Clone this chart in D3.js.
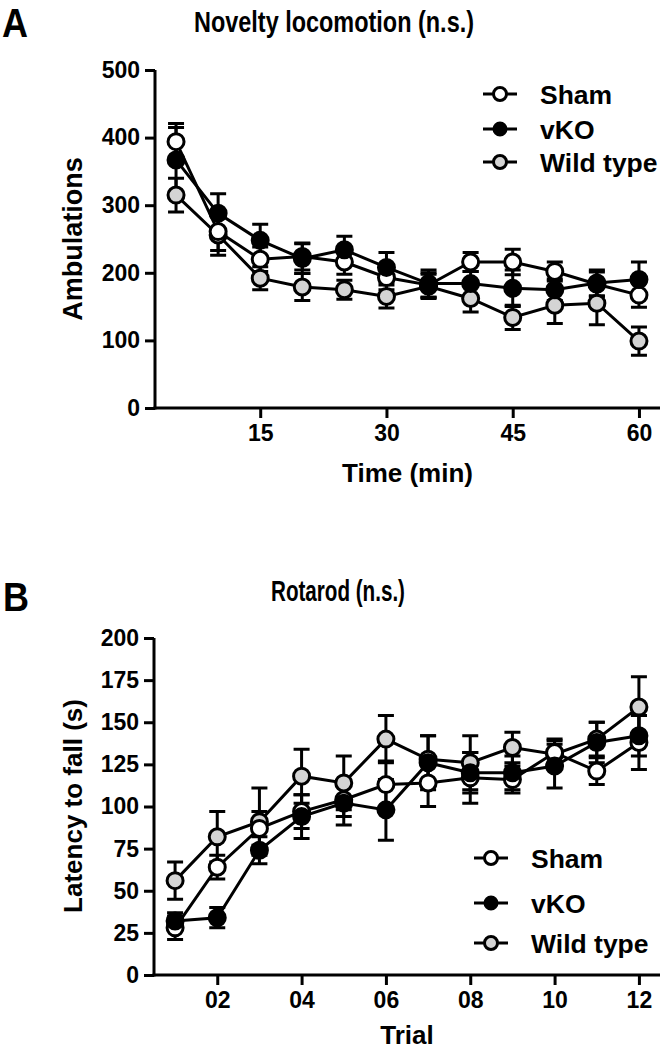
<!DOCTYPE html>
<html><head><meta charset="utf-8">
<script src="https://cdn.jsdelivr.net/npm/d3@7"></script>
<style>
html,body{margin:0;padding:0;background:#fff;}
text{font-family:"Liberation Sans",Arial,sans-serif;font-weight:bold;fill:#000;}
</style></head>
<body>
<svg id="chart" width="664" height="1050"></svg>
<script>
// ---------- Data ----------
const seriesNames = ["Sham", "vKO", "Wild type"];
// Panel A: Novelty locomotion
const timesA = [5, 10, 15, 20, 25, 30, 35, 40, 45, 50, 55, 60];
const shamA = [394, 261, 220, 224, 216, 193, 182, 216, 216, 202, 183, 167];
const shamA_sem = [27, 28, 18, 20, 18, 18, 18, 14, 19, 14, 18, 18];
const vkoA = [367, 288, 248, 221, 234, 208, 184, 184, 177, 175, 185, 190];
const vkoA_sem = [48, 29, 24, 22, 20, 22, 20, 18, 27, 16, 19, 26];
const wtA = [315, 256, 192, 179, 175, 165, 180, 162, 134, 152, 155, 99];
const wtA_sem = [25, 30, 17, 20, 14, 17, 18, 20, 18, 27, 32, 21];
const xTicksA = [15, 30, 45, 60];
const yTicksA = [0, 100, 200, 300, 400, 500];

// Panel B: Rotarod
const trialsB = [1, 2, 3, 4, 5, 6, 7, 8, 9, 10, 11, 12];
const shamB = [28, 64, 87, 97, 104, 113, 114, 117, 116, 132, 121, 138];
const shamB_sem = [7, 7, 10, 10, 10, 14, 14, 15, 8, 8, 8, 16];
const vkoB = [32, 34, 74, 94, 102, 98, 126, 120, 120, 124, 138, 142];
const vkoB_sem = [5, 6, 8, 13, 13, 18, 16, 12, 10, 13, 12, 12];
const wtB = [56, 82, 91, 118, 114, 140, 128, 126, 135, 131, 140, 159];
const wtB_sem = [11, 15, 20, 16, 16, 14, 14, 16, 9, 8, 10, 18];
const xTicksB = [2, 4, 6, 8, 10, 12];
const xTickLabelsB = ["02", "04", "06", "08", "10", "12"];
const yTicksB = [0, 25, 50, 75, 100, 125, 150, 175, 200];

// ---------- Styles ----------
const fills = {"Sham": "#ffffff", "vKO": "#000000", "Wild type": "#d4d4d4"};
const drawOrder = ["Wild type", "Sham", "vKO"];

const svg = d3.select("#chart");

function panel(cfg) {
  const g = svg.append("g");
  const x = d3.scaleLinear().domain(cfg.xDomain).range([cfg.left, cfg.right]);
  const y = d3.scaleLinear().domain(cfg.yDomain).range([cfg.bottom, cfg.top]);

  // Axes
  const yAxis = d3.axisLeft(y).tickValues(cfg.yTicks).tickSize(10).tickPadding(5).tickSizeOuter(0);
  const gy = g.append("g").attr("transform", `translate(${cfg.left},0)`).call(yAxis);
  const xAxis = d3.axisBottom(x).tickValues(cfg.xTicks).tickSize(10).tickPadding(7).tickSizeOuter(0)
    .tickFormat((d, i) => cfg.xTickLabels ? cfg.xTickLabels[i] : d);
  const gx = g.append("g").attr("transform", `translate(0,${cfg.bottom})`).call(xAxis);
  [gx, gy].forEach(a => {
    a.select(".domain").attr("stroke", "#000").attr("stroke-width", 3);
    a.selectAll(".tick line").attr("stroke", "#000").attr("stroke-width", 3);
    a.selectAll(".tick text").style("font-size", "23px").style("font-family", "'Liberation Sans',Arial,sans-serif")
      .style("font-weight", "bold").attr("fill", "#000");
  });
  gx.select(".domain").attr("d", `M${cfg.left - 1.5},0H${cfg.right}`);
  gy.select(".domain").attr("d", `M0,${cfg.top}V${cfg.bottom + 1.5}`);

  // Axis titles
  g.append("text").attr("x", (cfg.left + cfg.right) / 2).attr("y", cfg.xTitleY)
    .attr("text-anchor", "middle").style("font-size", "26px").text(cfg.xTitle);
  g.append("text").attr("transform", `translate(${cfg.yTitleX},${cfg.yTitleCY}) rotate(-90)`)
    .attr("text-anchor", "middle").style("font-size", cfg.yTitleSize + "px").text(cfg.yTitle);

  // Title and panel letter
  g.append("text").attr("x", cfg.titleX).attr("y", cfg.titleY).attr("text-anchor", "middle")
    .attr("textLength", cfg.titleLen).attr("lengthAdjust", "spacingAndGlyphs")
    .style("font-size", "30px").text(cfg.title);
  g.append("text").attr("x", cfg.letterX).attr("y", cfg.letterY)
    .attr("textLength", 26).attr("lengthAdjust", "spacingAndGlyphs")
    .style("font-size", "40px").text(cfg.letter);

  const line = d3.line().x(d => x(d.x)).y(d => y(d.y));
  drawOrder.forEach(name => {
    const s = cfg.series[name];
    const pts = cfg.xs.map((xv, i) => ({x: xv, y: s.v[i], e: s.e[i]}));
    g.append("path").datum(pts).attr("d", line).attr("fill", "none")
      .attr("stroke", "#000").attr("stroke-width", 3);
  });
  drawOrder.forEach(name => {
    const s = cfg.series[name];
    const pts = cfg.xs.map((xv, i) => ({x: xv, y: s.v[i], e: s.e[i]}));
    const eg = g.append("g");
    eg.selectAll("path").data(pts).join("path")
      .attr("d", d => {
        const cx = x(d.x), t = y(d.y + d.e), b = y(d.y - d.e);
        return `M${cx},${t}V${b}M${cx - 8},${t}H${cx + 8}M${cx - 8},${b}H${cx + 8}`;
      })
      .attr("fill", "none").attr("stroke", "#000").attr("stroke-width", 3);
  });
  drawOrder.forEach(name => {
    const s = cfg.series[name];
    const pts = cfg.xs.map((xv, i) => ({x: xv, y: s.v[i]}));
    g.append("g").selectAll("circle").data(pts).join("circle")
      .attr("cx", d => x(d.x)).attr("cy", d => y(d.y)).attr("r", 8)
      .attr("fill", fills[name]).attr("stroke", "#000").attr("stroke-width", 3);
  });

  // Legend
  seriesNames.forEach((name, i) => {
    const ly = cfg.legendRows[i];
    const lx = cfg.legendX;
    g.append("line").attr("x1", lx - 17).attr("x2", lx + 17).attr("y1", ly).attr("y2", ly)
      .attr("stroke", "#000").attr("stroke-width", 3);
    g.append("circle").attr("cx", lx).attr("cy", ly).attr("r", name === "vKO" ? 6 : 6.5)
      .attr("fill", fills[name]).attr("stroke", "#000").attr("stroke-width", 3);
    g.append("text").attr("x", lx + 40).attr("y", ly + 9.5).style("font-size", "26.5px").text(name);
  });
}

panel({
  xDomain: [2.5, 62.5], yDomain: [0, 500], left: 155, right: 660, top: 70, bottom: 408,
  xTicks: xTicksA, yTicks: yTicksA, xs: timesA,
  xTitle: "Time (min)", xTitleY: 482, yTitle: "Ambulations", yTitleSize: 27, yTitleX: 82, yTitleCY: 239,
  title: "Novelty locomotion (n.s.)", titleX: 334, titleY: 32, titleLen: 280,
  letter: "A", letterX: 2, letterY: 37,
  series: {"Sham": {v: shamA, e: shamA_sem}, "vKO": {v: vkoA, e: vkoA_sem}, "Wild type": {v: wtA, e: wtA_sem}},
  legendX: 500, legendRows: [94, 129, 162]
});

panel({
  xDomain: [0.5, 12.5], yDomain: [0, 200], left: 154, right: 660, top: 638, bottom: 975,
  xTicks: xTicksB, xTickLabels: xTickLabelsB, yTicks: yTicksB, xs: trialsB,
  xTitle: "Trial", xTitleY: 1044, yTitle: "Latency to fall (s)", yTitleSize: 26, yTitleX: 82, yTitleCY: 806,
  title: "Rotarod (n.s.)", titleX: 338, titleY: 601, titleLen: 134,
  letter: "B", letterX: 3, letterY: 611,
  series: {"Sham": {v: shamB, e: shamB_sem}, "vKO": {v: vkoB, e: vkoB_sem}, "Wild type": {v: wtB, e: wtB_sem}},
  legendX: 491, legendRows: [858, 903, 943]
});
</script>
</body></html>
